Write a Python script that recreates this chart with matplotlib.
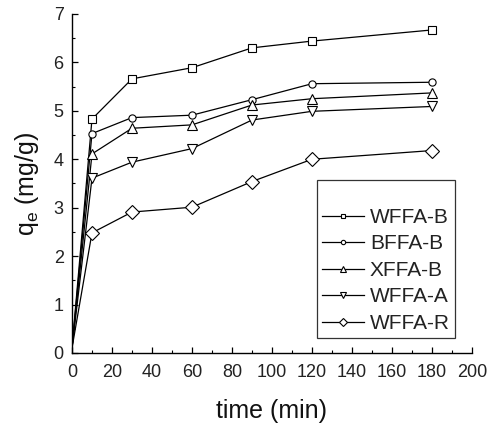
import matplotlib
matplotlib.use("Agg")
import matplotlib.pyplot as plt
from matplotlib.ticker import MultipleLocator

plt.rcParams['font.family'] = ['Liberation Sans', 'DejaVu Sans']
plt.rcParams['mathtext.fontset'] = 'custom'
plt.rcParams['mathtext.rm'] = 'Liberation Sans'

time_min = [0, 10, 30, 60, 90, 120, 180]
wffa_b = [0.1, 4.83, 5.66, 5.89, 6.30, 6.44, 6.67]
bffa_b = [0.1, 4.53, 4.86, 4.91, 5.23, 5.56, 5.59]
xffa_b = [0.1, 4.11, 4.64, 4.71, 5.12, 5.25, 5.37]
wffa_a = [0.1, 3.61, 3.94, 4.22, 4.81, 4.99, 5.09]
wffa_r = [0.1, 2.48, 2.91, 3.01, 3.54, 4.00, 4.18]

series_names = ['WFFA-B', 'BFFA-B', 'XFFA-B', 'WFFA-A', 'WFFA-R']
series_values = [wffa_b, bffa_b, xffa_b, wffa_a, wffa_r]
markers = ['s', 'o', '^', 'v', 'D']
msizes = [5.2, 5.2, 7, 7, 6.8]

fig = plt.figure(figsize=(4.91, 4.23), dpi=100)
ax = fig.add_axes([0.1466, 0.1655, 0.8147, 0.8015])

handles = []
for name, vals, mk, ms in zip(series_names, series_values, markers, msizes):
    ln, = ax.plot(time_min, vals, color='black', linewidth=0.9,
                  marker=mk, markersize=ms, markerfacecolor='white',
                  markeredgecolor='black', markeredgewidth=0.8,
                  markevery=slice(1, None), label=name)
    handles.append(ln)

ax.set_xlim(0, 200)
ax.set_ylim(0, 7)
ax.xaxis.set_major_locator(MultipleLocator(20))
ax.xaxis.set_minor_locator(MultipleLocator(10))
ax.yaxis.set_major_locator(MultipleLocator(1))
ax.yaxis.set_minor_locator(MultipleLocator(0.5))

for s in ['top', 'right']:
    ax.spines[s].set_visible(False)
for s in ['left', 'bottom']:
    ax.spines[s].set_linewidth(1.0)

ax.tick_params(axis='both', which='major', direction='in', length=4,
               width=0.9, labelsize=13, labelcolor='#222222')
ax.tick_params(axis='both', which='minor', direction='in', length=2, width=0.8)
ax.tick_params(axis='x', which='major', pad=8)
ax.tick_params(axis='y', which='major', pad=6)

ax.set_xlabel('time (min)', fontsize=18, color='#111111', labelpad=13)
ax.set_ylabel(r'q$_{\mathregular{e}}$ (mg/g)', fontsize=18, color='#111111', labelpad=9)

leg = ax.legend(handles=handles, loc='lower right',
                bbox_to_anchor=(0.958, 0.044), fontsize=15,
                title=' ', title_fontsize=12,
                frameon=True, fancybox=False, edgecolor='black',
                handlelength=2.0, handletextpad=0.3, labelspacing=0.36,
                borderpad=0.25, borderaxespad=0.0, markerscale=0.6)
leg.get_frame().set_linewidth(0.9)
for t in leg.get_texts():
    t.set_color('#222222')

fig.savefig('out.png', dpi=100)
